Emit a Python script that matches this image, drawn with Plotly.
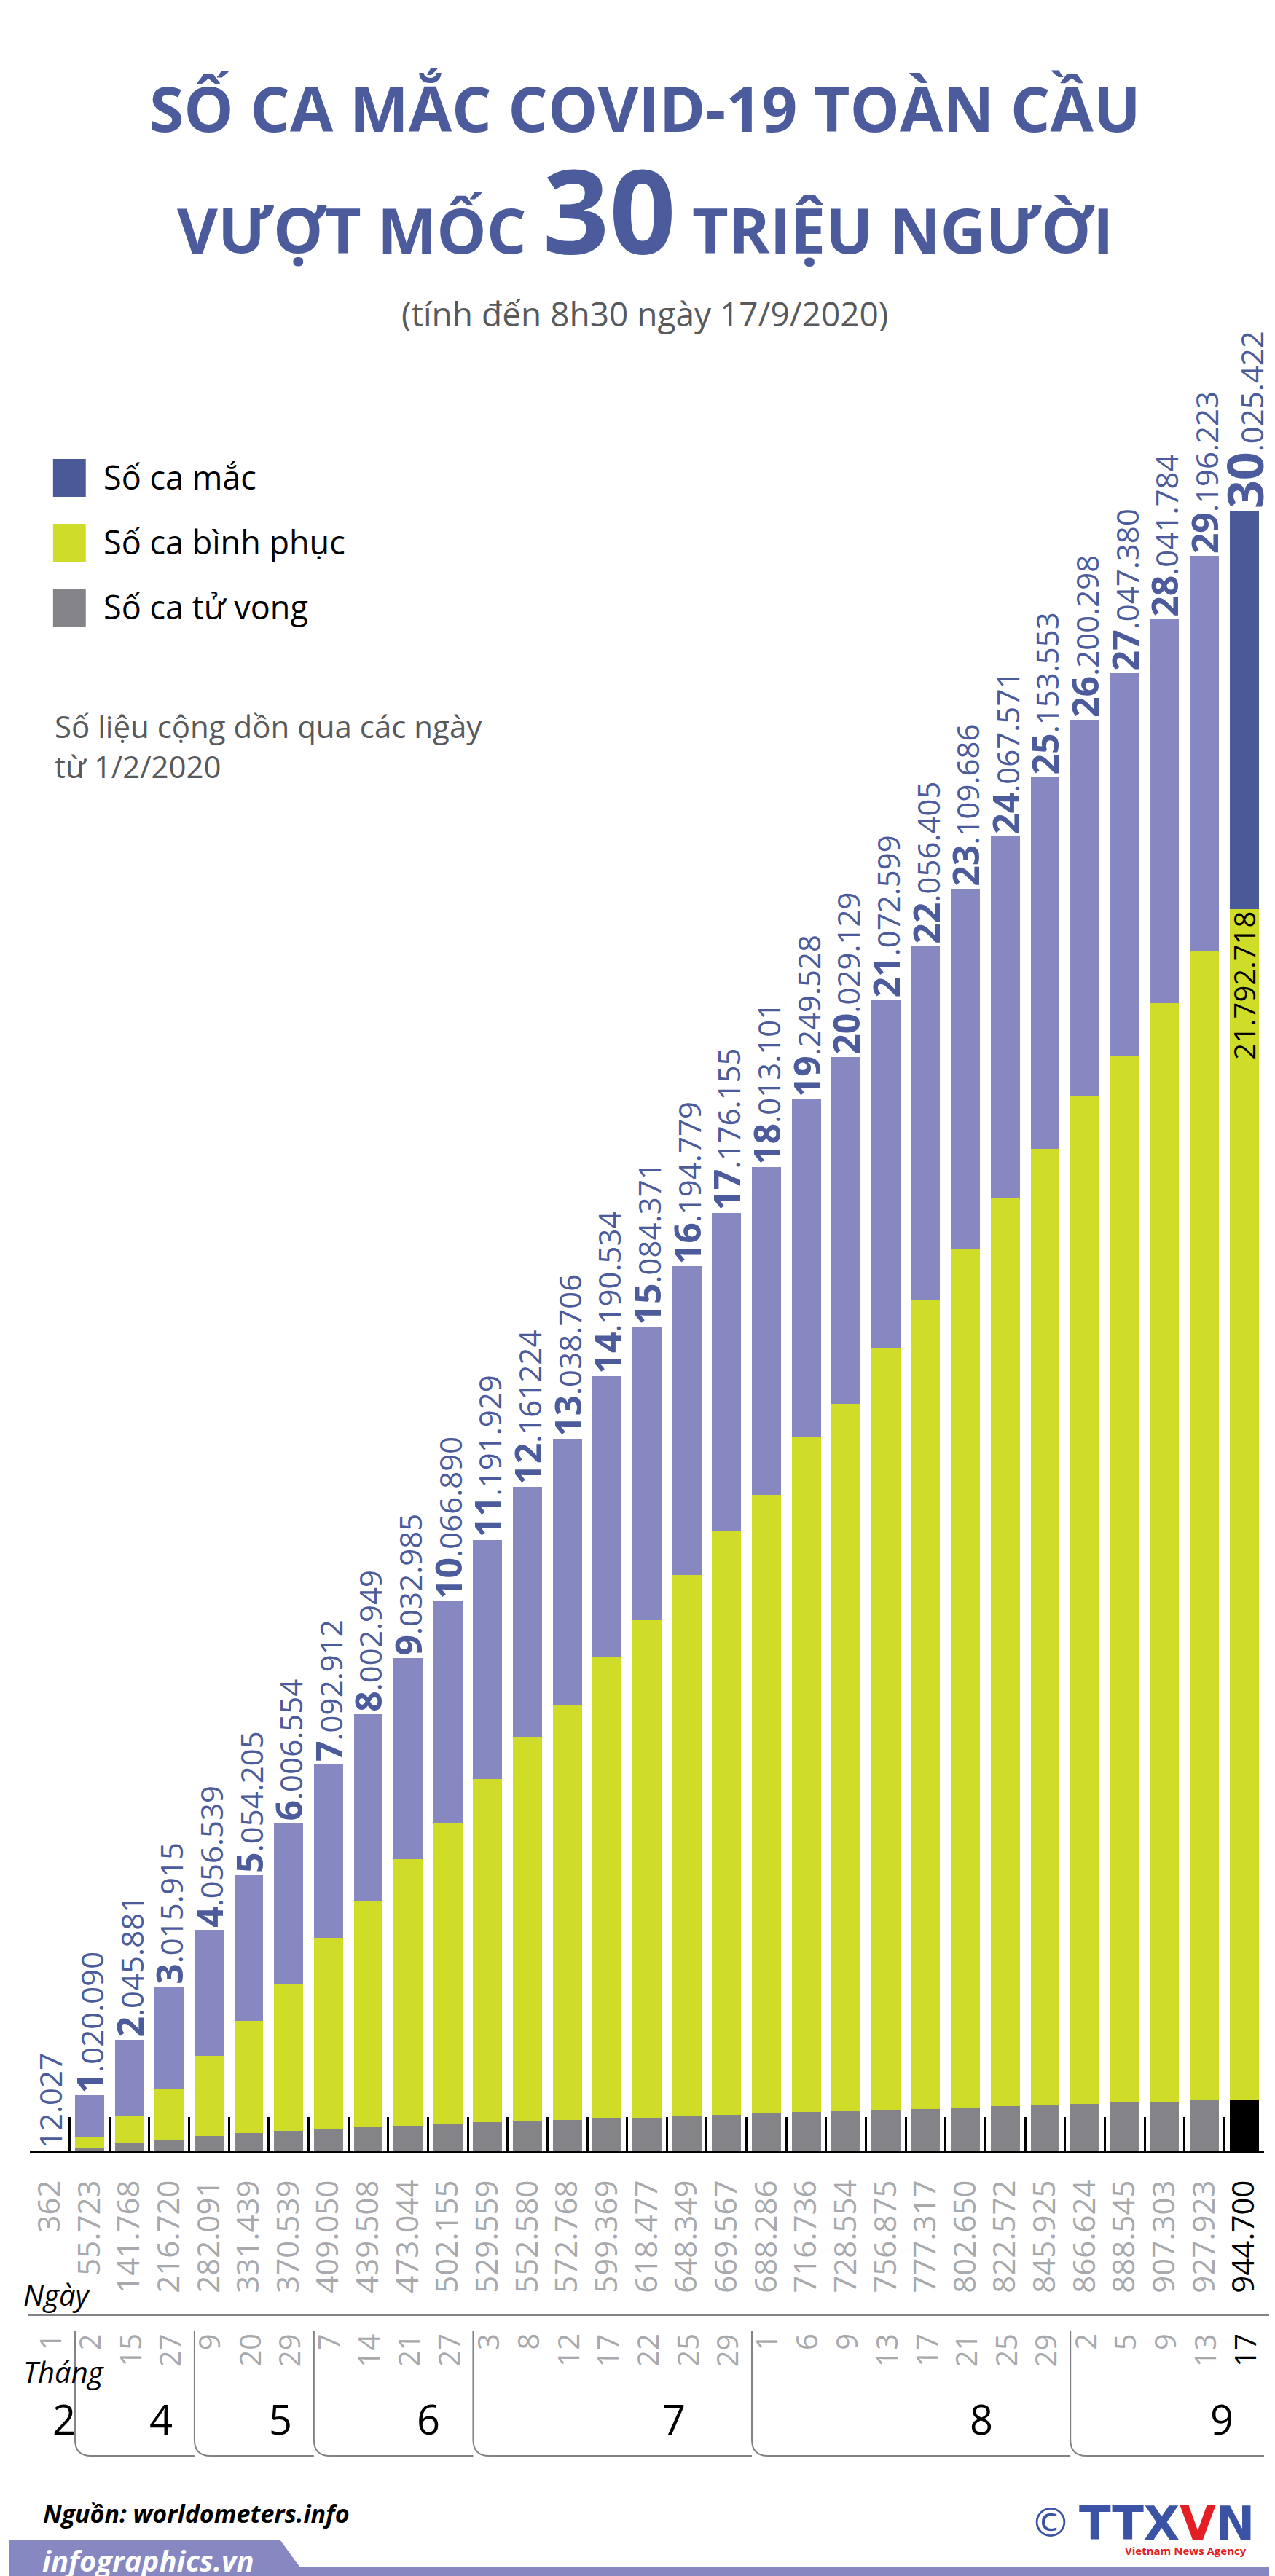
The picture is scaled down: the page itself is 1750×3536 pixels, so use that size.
import plotly.graph_objects as go

# ---------------------------
# Data (cumulative since 1/2/2020)
# ---------------------------
months = [2, 4, 4, 4, 5, 5, 5, 6, 6, 6, 6, 7, 7, 7, 7, 7, 7, 7,
          8, 8, 8, 8, 8, 8, 8, 8, 9, 9, 9, 9, 9]
days = [1, 2, 15, 27, 9, 20, 29, 7, 14, 21, 27, 3, 8, 12, 17, 22, 25, 29,
        1, 6, 9, 13, 17, 21, 25, 29, 2, 5, 9, 13, 17]

total_cases = [12027, 1020090, 2045881, 3015915, 4056539, 5054205, 6006554,
               7092912, 8002949, 9032985, 10066890, 11191929, 12161224,
               13038706, 14190534, 15084371, 16194779, 17176155, 18013101,
               19249528, 20029129, 21072599, 22056405, 23109686, 24067571,
               25153553, 26200298, 27047380, 28041784, 29196223, 30025422]
total_labels = ["12.027", "1.020.090", "2.045.881", "3.015.915", "4.056.539",
                "5.054.205", "6.006.554", "7.092.912", "8.002.949", "9.032.985",
                "10.066.890", "11.191.929", "12.161224", "13.038.706",
                "14.190.534", "15.084.371", "16.194.779", "17.176.155",
                "18.013.101", "19.249.528", "20.029.129", "21.072.599",
                "22.056.405", "23.109.686", "24.067.571", "25.153.553",
                "26.200.298", "27.047.380", "28.041.784", "29.196.223",
                "30.025.422"]

# recovered: only the last value is printed, the rest estimated from bar heights
recovered = [280, 210000, 511000, 933000, 1466000, 2056000, 2697000, 3496000,
             4146000, 4874000, 5495000, 6290000, 7015000, 7582000, 8449000,
             9101000, 9905000, 10691000, 11327000, 12344000, 12953000,
             13930000, 14809000, 15720000, 16612000, 17507000, 18446000,
             19146000, 20100000, 21027000, 21792718]
recovered_label = "21.792.718"

deaths = [362, 55723, 141768, 216720, 282091, 331439, 370539, 409050, 439508,
          473044, 502155, 529559, 552580, 572768, 599369, 618477, 648349,
          669567, 688286, 716736, 728554, 756875, 777317, 802650, 822572,
          845925, 866624, 888545, 907303, 927923, 944700]
death_labels = ["362", "55.723", "141.768", "216.720", "282.091", "331.439",
                "370.539", "409.050", "439.508", "473.044", "502.155",
                "529.559", "552.580", "572.768", "599.369", "618.477",
                "648.349", "669.567", "688.286", "716.736", "728.554",
                "756.875", "777.317", "802.650", "822.572", "845.925",
                "866.624", "888.545", "907.303", "927.923", "944.700"]

active = [t - d - r for t, d, r in zip(total_cases, deaths, recovered)]

# ---------------------------
# Page geometry / colours
# ---------------------------
W, H = 1750, 3536
BASE_Y = 2945          # pixel row of the x axis
PLOT_TOP = 560
PX_PER_M = 75
X_LEFT, X_RIGHT = 29, 1727
n = len(days)
cat_px = (X_RIGHT - X_LEFT) / n
BAR_W = 0.73

BLUE = "#4b5b9b"
PURPLE = "#8788c2"
DARK_PURPLE = "#4a5a98"
YELLOW = "#d0dd28"
GRAY = "#838388"
LABEL_GRAY = "#a7a9ac"
TEXT_GRAY = "#58595b"
LINE_GRAY = "#808285"
FONT = "Open Sans"


def px(x):
    return x / W


def py(y):
    return 1 - y / H


def x_of_px(xp):
    return (xp - X_LEFT) / cat_px - 0.5


idx = list(range(n))
last = n - 1


def total_text(i, s):
    if total_cases[i] < 1_000_000:
        return s
    head, tail = s.split(".", 1)
    size = 68 if i == last else 50
    return f"<b><span style='font-size:{size}px'>{head}</span></b>.{tail}"


fig = go.Figure()
fig.add_trace(go.Bar(
    x=idx, y=deaths,
    marker=dict(color=[GRAY] * last + ["#000000"], line=dict(width=0)),
    cliponaxis=False, hoverinfo="skip"))
fig.add_trace(go.Bar(
    x=idx, y=recovered,
    marker=dict(color=YELLOW, line=dict(width=0)),
    text=[""] * last + [recovered_label],
    textposition="inside", insidetextanchor="end", textangle=-90,
    constraintext="none",
    insidetextfont=dict(family=FONT, size=40, color="#000000"),
    cliponaxis=False, hoverinfo="skip"))
fig.add_trace(go.Bar(
    x=idx, y=active,
    marker=dict(color=[PURPLE] * last + [DARK_PURPLE], line=dict(width=0)),
    text=[total_text(i, s) for i, s in enumerate(total_labels)],
    textposition="outside", textangle=-90, constraintext="none",
    outsidetextfont=dict(family=FONT, size=42, color=BLUE),
    cliponaxis=False, hoverinfo="skip"))
# invisible trace that carries the boundary tick axis
fig.add_trace(go.Scatter(x=[-0.5, n - 0.5], y=[0, 0], mode="lines",
                         line=dict(width=0), xaxis="x2", hoverinfo="skip"))

tick_text = [f"<span style='color:#000000'>{s}</span>" if i == last else s
             for i, s in enumerate(death_labels)]

fig.update_layout(
    width=W, height=H, margin=dict(l=0, r=0, t=0, b=0),
    paper_bgcolor="white", plot_bgcolor="white",
    barmode="stack", bargap=1 - BAR_W, showlegend=False,
    xaxis=dict(domain=[px(X_LEFT), px(X_RIGHT)], range=[-0.5, n - 0.5],
               showgrid=False, zeroline=False, showline=True,
               linecolor="#000000", linewidth=2.5,
               tickmode="array", tickvals=idx, ticktext=tick_text,
               tickangle=-90, ticks="", ticklabelstandoff=20,
               tickfont=dict(family=FONT, size=42, color=LABEL_GRAY)),
    xaxis2=dict(domain=[px(X_LEFT), px(X_RIGHT)], range=[-0.5, n - 0.5],
                overlaying="x", anchor="y", side="bottom",
                showgrid=False, zeroline=False, showline=False,
                tickmode="array", tickvals=[i - 0.5 for i in range(n + 1)],
                ticks="inside", ticklen=47, tickwidth=2.5, tickcolor="#000000",
                showticklabels=False),
    yaxis=dict(domain=[py(BASE_Y), py(PLOT_TOP)],
               range=[0, (BASE_Y - PLOT_TOP) / PX_PER_M * 1e6],
               visible=False),
)

ann = []
shapes = []

# ---------------------------
# Titles
# ---------------------------
ann.append(dict(text="<b>SỐ CA MẮC COVID-19 TOÀN CẦU</b>", x=0.5, y=py(140),
                font=dict(family=FONT, size=86, color=BLUE)))
ann.append(dict(text="<b>VƯỢT MỐC <span style='font-size:160px'>30</span> TRIỆU NGƯỜI</b>",
                x=0.5, y=py(278), font=dict(family=FONT, size=86, color=BLUE)))
ann.append(dict(text="(tính đến 8h30 ngày 17/9/2020)", x=0.5, y=py(422),
                font=dict(family=FONT, size=46, color=TEXT_GRAY)))

# ---------------------------
# Legend
# ---------------------------
legend_items = [("Số ca mắc", DARK_PURPLE), ("Số ca bình phục", YELLOW),
                ("Số ca tử vong", GRAY)]
for k, (name, col) in enumerate(legend_items):
    top = 622 + k * 89
    shapes.append(dict(type="rect", xref="paper", yref="paper",
                       x0=px(61), x1=px(106), y0=py(top), y1=py(top + 52),
                       fillcolor=col, line=dict(width=0)))
    ann.append(dict(text=name, x=px(128), y=py(top + 24), xanchor="left",
                    font=dict(family=FONT, size=45, color="#000000")))
ann.append(dict(text="Số liệu cộng dồn qua các ngày<br>từ 1/2/2020",
                x=px(61), y=py(958), xanchor="left", yanchor="top", align="left",
                font=dict(family=FONT, size=42, color=TEXT_GRAY)))

# ---------------------------
# Day / month rows
# ---------------------------
ann.append(dict(text="<i>Ngày</i>", x=px(18), y=py(3141), xanchor="left",
                font=dict(family=FONT, size=40, color="#000000")))
ann.append(dict(text="<i>Tháng</i>", x=px(18), y=py(3247), xanchor="left",
                font=dict(family=FONT, size=40, color="#000000")))
shapes.append(dict(type="line", xref="paper", yref="paper",
                   x0=px(27), x1=1, y0=py(3170), y1=py(3170),
                   line=dict(color=LINE_GRAY, width=2)))

for i, d in enumerate(days):
    ann.append(dict(text=str(d), x=i, xref="x", y=py(3193), yanchor="top",
                    textangle=-90,
                    font=dict(family=FONT, size=40,
                              color="#000000" if i == last else LABEL_GRAY)))

groups = []
for i, m in enumerate(months):
    if groups and groups[-1][0] == m:
        groups[-1][2] = i
    else:
        groups.append([m, i, i])

half = BAR_W / 2
page_right = x_of_px(W)
rx = 22 / cat_px
ry = 22 / H
y_top, y_bot = py(3192), py(3363)
for g, (m, first, lst) in enumerate(groups):
    x0 = first - half
    x1 = groups[g + 1][1] - half if g + 1 < len(groups) else page_right
    ann.append(dict(text=str(m), x=x0 + 0.72 * (x1 - x0), xref="x",
                    y=py(3312), font=dict(family=FONT, size=56, color="#000000")))
    if g == 0:
        continue
    path = (f"M {x0},{y_top} L {x0},{y_bot + ry} "
            f"Q {x0},{y_bot} {x0 + rx},{y_bot} L {x1},{y_bot}")
    shapes.append(dict(type="path", xref="x", yref="paper", path=path,
                       line=dict(color=LINE_GRAY, width=2)))

# ---------------------------
# Footer
# ---------------------------
ann.append(dict(text="<b><i>Nguồn: worldometers.info</i></b>", x=px(45),
                y=py(3442), xanchor="left",
                font=dict(family=FONT, size=34, color="#000000")))
band = (f"M 0,{py(3478)} L {px(373)},{py(3478)} L {px(400)},{py(3515)} "
        f"L 1,{py(3515)} L 1,0 L 0,0 Z")
shapes.append(dict(type="path", xref="paper", yref="paper", path=band,
                   fillcolor=PURPLE, line=dict(width=0), layer="below"))
ann.append(dict(text="<b><i>infographics.vn</i></b>", x=px(44), y=py(3506),
                xanchor="left", font=dict(family=FONT, size=40, color="white")))

ann.append(dict(text="©", x=px(1433), y=py(3454),
                font=dict(family="DejaVu Sans", size=56, color="#3a53a4")))
ann.append(dict(text="<b>TTX<span style='color:#e31e24'>V</span>N</b>",
                x=px(1593), y=py(3456),
                font=dict(family="DejaVu Sans", size=64, color="#3a53a4")))
ann.append(dict(text="<b>Vietnam News Agency</b>", x=px(1705), y=py(3493),
                xanchor="right",
                font=dict(family=FONT, size=15, color="#e31e24")))

for a in ann:
    a.setdefault("xref", "paper")
    a.setdefault("yref", "paper")
    a.setdefault("showarrow", False)
    a.setdefault("xanchor", "center")
    a.setdefault("yanchor", "middle")

fig.update_layout(annotations=ann, shapes=shapes)
fig.write_html("out.html")
